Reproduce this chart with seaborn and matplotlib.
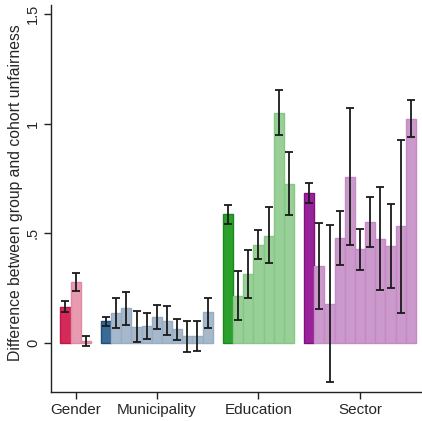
import matplotlib
matplotlib.use("Agg")
import matplotlib.pyplot as plt
import seaborn as sns
import numpy as np
import pandas as pd

# group labels and bar values
groups = ["Gender", "Municipality", "Education", "Sector"]

gender_val = [0.165, 0.278, 0.010]
gender_lo = [0.140, 0.235, -0.013]
gender_hi = [0.190, 0.320, 0.030]

muni_val = [0.100, 0.138, 0.159, 0.073, 0.077, 0.118, 0.102, 0.064, 0.032, 0.032, 0.141]
muni_lo = [0.077, 0.068, 0.084, 0.006, 0.018, 0.062, 0.036, 0.015, -0.039, -0.035, 0.070]
muni_hi = [0.118, 0.205, 0.234, 0.144, 0.135, 0.173, 0.169, 0.111, 0.100, 0.100, 0.205]

edu_val = [0.588, 0.216, 0.316, 0.448, 0.489, 1.049, 0.724]
edu_lo = [0.544, 0.103, 0.203, 0.384, 0.363, 0.949, 0.585]
edu_hi = [0.627, 0.327, 0.422, 0.513, 0.620, 1.151, 0.870]

sector_val = [0.683, 0.352, 0.179, 0.480, 0.758, 0.430, 0.553, 0.475, 0.443, 0.531, 1.022]
sector_lo = [0.639, 0.155, -0.176, 0.354, 0.445, 0.334, 0.439, 0.243, 0.251, 0.137, 0.940]
sector_hi = [0.729, 0.545, 0.536, 0.603, 1.069, 0.521, 0.667, 0.709, 0.633, 0.923, 1.106]

dark_colors = ["#d42a5a", "#3a6a96", "#2ca02c", "#992299"]
edge_colors = ["#c0164a", "#1f4e79", "#1a8a1a", "#801080"]
light_colors = ["#e89ab0", "#a6b9cc", "#98d098", "#cc99cc"]
light_edges = ["#e08aa2", "#98adc2", "#88c688", "#c38bc3"]

# build one table, one row per bar, with a one-bar gap between groups
rows = []
pos = 0
tick_pos = []
for gi, (vals, los, his) in enumerate([(gender_val, gender_lo, gender_hi),
                                       (muni_val, muni_lo, muni_hi),
                                       (edu_val, edu_lo, edu_hi),
                                       (sector_val, sector_lo, sector_hi)]):
    start = pos
    for i, (v, lo, hi) in enumerate(zip(vals, los, his)):
        rows.append({"group": groups[gi], "x": pos, "value": v, "lo": lo, "hi": hi,
                     "color": dark_colors[gi] if i == 0 else light_colors[gi],
                     "edge": edge_colors[gi] if i == 0 else light_edges[gi]})
        pos += 1
    tick_pos.append((start + pos - 1) / 2)
    pos += 1
df = pd.DataFrame(rows)

sns.set_style("ticks")
plt.rcParams["font.family"] = ["Liberation Sans", "DejaVu Sans"]

fig = plt.figure(figsize=(4.22, 4.21), dpi=100)
ax = fig.add_axes([51 / 422, 29.3 / 421, 371 / 422, 386.7 / 421])

ax.bar(df["x"], df["value"], width=1.0, color=df["color"], edgecolor=df["edge"],
       linewidth=1.0, zorder=2)
ax.errorbar(df["x"], df["value"],
            yerr=[df["value"] - df["lo"], df["hi"] - df["value"]],
            fmt="none", ecolor="#1a1a1a", elinewidth=1.3, capsize=2.7, capthick=1.3, zorder=3)

ax.set_xlim(-1.42, 35.1)
ax.set_ylim(-0.222, 1.54)
ax.set_yticks([0, 0.5, 1, 1.5])
ax.set_yticklabels(["0", ".5", "1", "1.5"], rotation=90, va="center", fontsize=10.5)
ax.set_xticks(tick_pos)
ax.set_xticklabels(groups, fontsize=11)
ax.set_ylabel("Difference between group and cohort unfairness", fontsize=11.3)
ax.yaxis.set_label_coords(-0.075, 0.516)
ax.tick_params(axis="both", length=5, width=1, color="#222222", pad=3)
sns.despine(ax=ax)
for s in ["left", "bottom"]:
    ax.spines[s].set_color("#222222")
    ax.spines[s].set_linewidth(1)

fig.savefig("out.png", dpi=100)
